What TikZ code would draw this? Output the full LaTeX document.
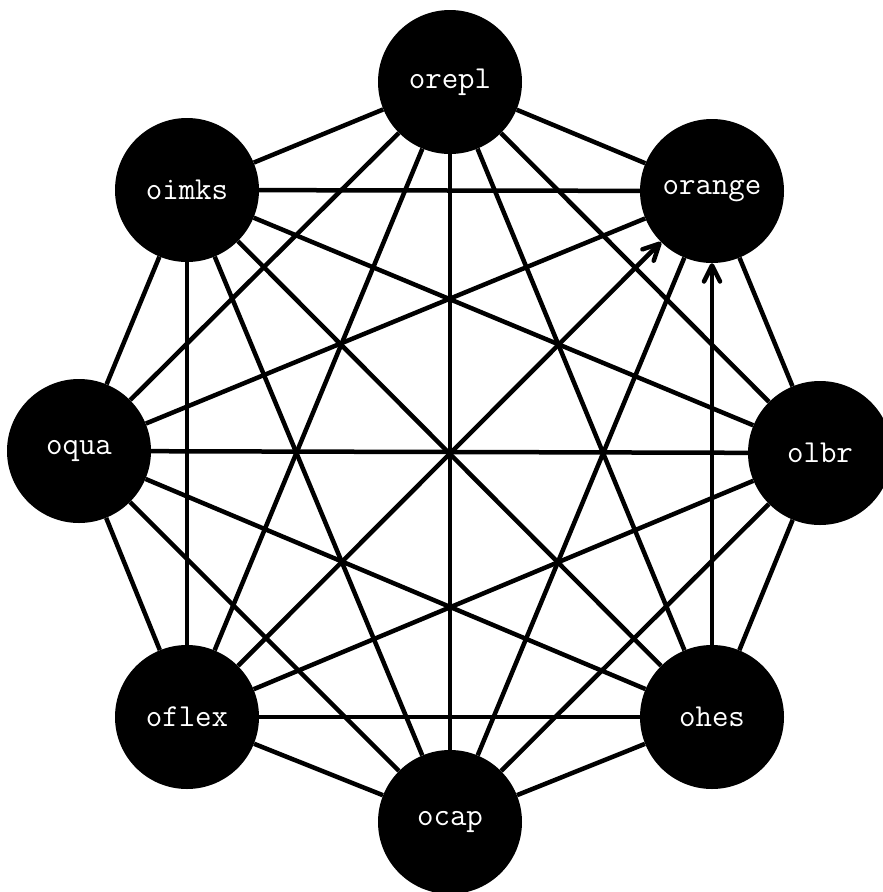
\documentclass[tikz,border=0pt]{standalone}
\usetikzlibrary{arrows.meta}
\begin{document}
\begin{tikzpicture}[x=1pt,y=-1pt,
  vnode/.style={circle,fill=black,draw=none,minimum size=144pt,inner sep=0pt,
    text=white,font=\fontsize{32}{38}\selectfont\ttfamily},
  edge/.style={line width=4.5pt,draw=black},
  arr/.style={edge,-{Straight Barb[length=16pt,width=16pt,line width=4.5pt,round]}}]
\useasboundingbox (0,0) rectangle (883,892);
\node[vnode] (orepl) at (450,82) {orepl};
\node[vnode] (orange) at (712,191) {orange};
\node[vnode] (olbr) at (820,453) {olbr};
\node[vnode] (ohes) at (712,717) {ohes};
\node[vnode] (ocap) at (450,822) {ocap};
\node[vnode] (oflex) at (187,717) {oflex};
\node[vnode] (oqua) at (79,451) {oqua};
\node[vnode] (oimks) at (187,190) {oimks};
\foreach \a/\b in {orepl/orange,orepl/olbr,orepl/ohes,orepl/ocap,orepl/oflex,orepl/oqua,orepl/oimks,
  orange/olbr,orange/ocap,orange/oqua,orange/oimks,
  olbr/ohes,olbr/ocap,olbr/oflex,olbr/oqua,olbr/oimks,
  ohes/ocap,ohes/oflex,ohes/oqua,ohes/oimks,
  ocap/oflex,ocap/oqua,ocap/oimks,
  oflex/oqua,oflex/oimks,
  oqua/oimks}
  \draw[edge] (\a) -- (\b);
\draw[arr] (oflex) -- (orange);
\draw[arr] (ohes) -- (orange);
\end{tikzpicture}
\end{document}
